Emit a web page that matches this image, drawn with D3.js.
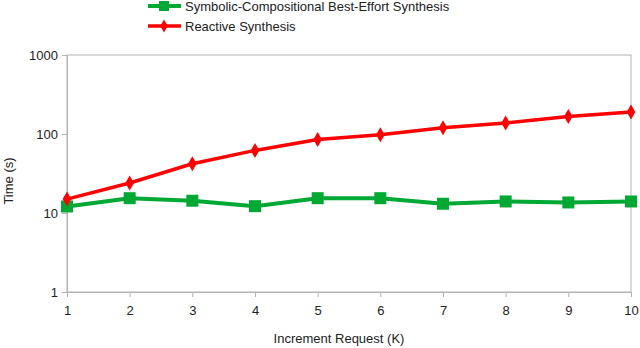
<!DOCTYPE html>
<html lang="en">
<head>
<meta charset="UTF-8">
<title>Time vs Increment Request</title>
<script src="https://d3js.org/d3.v7.min.js"></script>
<style>
  body { margin: 0; background: #fff; }
  svg { font-family: "Liberation Sans", Arial, sans-serif; }
</style>
</head>
<body>
<div id="chart"></div>
<script>
// Data
const increments = [1, 2, 3, 4, 5, 6, 7, 8, 9, 10];
const bestEffort = [12.1, 15.4, 14.3, 12.2, 15.4, 15.4, 13.1, 14.0, 13.6, 14.0];
const reactive = [15.0, 24, 42, 62, 85, 98, 120, 138, 167, 190];
const yTicks = [1, 10, 100, 1000];
const seriesNames = ["Symbolic-Compositional Best-Effort Synthesis", "Reactive Synthesis"];

const W = 640, H = 348;
const margin = { top: 55, right: 9, bottom: 56, left: 67 };
const width = W - margin.left - margin.right,
      height = H - margin.top - margin.bottom;

const svg = d3.select("#chart").append("svg")
    .attr("width", W).attr("height", H);

const g = svg.append("g")
    .attr("transform", `translate(${margin.left},${margin.top})`);

const x = d3.scaleLinear().domain([1, 10]).range([0, width]);
const y = d3.scaleLog().domain([1, 1000]).range([height, 0]);

const axisColor = "#b3b3b3";

// frame
g.append("rect")
    .attr("x", 0).attr("y", 0)
    .attr("width", width).attr("height", height)
    .attr("fill", "none")
    .attr("stroke", axisColor)
    .attr("stroke-width", 1);

// axes
const xAxis = g.append("g")
    .attr("transform", `translate(0,${height})`)
    .call(d3.axisBottom(x).tickValues(increments).tickFormat(d3.format("d")).tickSize(5).tickSizeOuter(0));

const yAxis = g.append("g")
    .call(d3.axisLeft(y).tickValues(yTicks).tickFormat(d3.format("d")).tickSize(5).tickSizeOuter(0));

[xAxis, yAxis].forEach(a => {
    a.select(".domain").attr("stroke", axisColor);
    a.selectAll(".tick line").attr("stroke", axisColor);
    a.selectAll(".tick text")
        .attr("fill", "#222")
        .style("font-size", "13px")
        .style("font-family", "Liberation Sans, Arial, sans-serif");
});
xAxis.selectAll(".tick text").attr("dy", "0.71em").attr("y", 14);
yAxis.selectAll(".tick text").attr("x", -9);

const green = "#00a933", red = "#ff0000";

const line = d3.line()
    .x((d, i) => x(increments[i]))
    .y(d => y(d));

// best-effort series
g.append("path").datum(bestEffort)
    .attr("fill", "none").attr("stroke", green)
    .attr("stroke-width", 4).attr("stroke-linejoin", "round")
    .attr("d", line);

g.selectAll(".sq").data(bestEffort).enter().append("rect")
    .attr("x", (d, i) => x(increments[i]) - 6)
    .attr("y", d => y(d) - 6)
    .attr("width", 12).attr("height", 12)
    .attr("fill", green);

// reactive series
g.append("path").datum(reactive)
    .attr("fill", "none").attr("stroke", red)
    .attr("stroke-width", 3.5).attr("stroke-linejoin", "round")
    .attr("d", line);

const diamond = d3.symbol().type(d3.symbolDiamond).size(65);
g.selectAll(".dm").data(reactive).enter().append("path")
    .attr("transform", (d, i) => `translate(${x(increments[i])},${y(d)})`)
    .attr("d", diamond)
    .attr("fill", red);

// axis titles
svg.append("text")
    .attr("transform", `translate(8,181) rotate(-90)`)
    .attr("text-anchor", "middle")
    .attr("dy", "0.35em")
    .style("font-size", "13px")
    .attr("fill", "#222")
    .text("Time (s)");

svg.append("text")
    .attr("x", 339)
    .attr("y", 338)
    .attr("text-anchor", "middle")
    .attr("dy", "0.35em")
    .style("font-size", "13px")
    .attr("fill", "#222")
    .text("Increment Request (K)");

// legend
const legend = svg.append("g").attr("transform", "translate(148,0)");
const legendColors = [green, red];
seriesNames.forEach((name, i) => {
    const row = legend.append("g").attr("transform", `translate(0,${6 + i * 20})`);
    row.append("line")
        .attr("x1", 0).attr("x2", 33).attr("y1", 0).attr("y2", 0)
        .attr("stroke", legendColors[i]).attr("stroke-width", i === 0 ? 4 : 3.5);
    if (i === 0) {
        row.append("rect").attr("x", 11).attr("y", -5).attr("width", 10).attr("height", 10)
            .attr("fill", green);
    } else {
        row.append("path").attr("transform", "translate(16,0)")
            .attr("d", d3.symbol().type(d3.symbolDiamond).size(50)).attr("fill", red);
    }
    row.append("text")
        .attr("x", 37).attr("y", 0).attr("dy", "0.35em")
        .style("font-size", "13px")
        .attr("fill", "#222")
        .text(name);
});
</script>
</body>
</html>
